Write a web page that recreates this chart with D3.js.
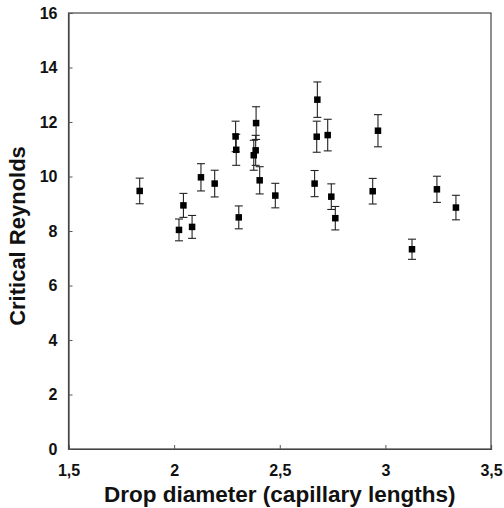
<!DOCTYPE html>
<html>
<head>
<meta charset="utf-8">
<script src="https://cdn.jsdelivr.net/npm/d3@7/dist/d3.min.js"></script>
<style>
  html, body { margin: 0; padding: 0; background: #fff; }
  svg { display: block; font-family: "Liberation Sans", Arial, sans-serif; }
</style>
</head>
<body>
<svg id="chart" width="504" height="508"></svg>
<script>
// Data
const diameter = [1.837, 2.023, 2.044, 2.085, 2.127, 2.192, 2.291, 2.294, 2.306, 2.377, 2.386, 2.388, 2.405, 2.479, 2.665, 2.675, 2.678, 2.727, 2.744, 2.763, 2.940, 2.965, 3.126, 3.244, 3.334];
const reynolds = [9.47, 8.04, 8.94, 8.15, 9.97, 9.74, 11.47, 10.98, 8.50, 10.78, 10.96, 11.96, 9.86, 9.30, 9.74, 11.46, 12.82, 11.52, 9.26, 8.47, 9.46, 11.68, 7.33, 9.53, 8.86];
const errors   = [0.47, 0.40, 0.44, 0.42, 0.50, 0.49, 0.56, 0.57, 0.42, 0.55, 0.55, 0.60, 0.50, 0.45, 0.48, 0.57, 0.65, 0.58, 0.47, 0.43, 0.47, 0.59, 0.37, 0.48, 0.45];
const xTicks = [1.5, 2, 2.5, 3, 3.5];
const xTickLabels = ["1,5", "2", "2,5", "3", "3,5"];
const yTicks = [0, 2, 4, 6, 8, 10, 12, 14, 16];
const xTitle = "Drop diameter (capillary lengths)";
const yTitle = "Critical Reynolds";

const svg = d3.select("#chart");
const mLeft = 68.5, mRight = 491, mTop = 13, mBottom = 449;

const x = d3.scaleLinear().domain([1.5, 3.5]).range([mLeft, mRight]);
const y = d3.scaleLinear().domain([0, 16]).range([mBottom, mTop]);

// frame
svg.append("rect")
  .attr("x", mLeft).attr("y", mTop)
  .attr("width", mRight - mLeft).attr("height", mBottom - mTop)
  .attr("fill", "none").attr("stroke", "#444").attr("stroke-width", 1.2);

const xAxis = svg.append("g")
  .attr("transform", `translate(0,${mBottom})`)
  .call(d3.axisBottom(x).tickValues(xTicks).tickFormat((d, i) => xTickLabels[i]).tickSize(-4).tickPadding(16));
const yAxis = svg.append("g")
  .attr("transform", `translate(${mLeft},0)`)
  .call(d3.axisLeft(y).tickValues(yTicks).tickSize(-4).tickPadding(11));

[xAxis, yAxis].forEach(g => {
  g.select(".domain").attr("stroke", "#444").attr("stroke-width", 1.2);
  g.selectAll(".tick line").attr("stroke", "#555");
  g.selectAll(".tick text")
    .attr("font-family", "'Liberation Sans', Arial, sans-serif")
    .attr("font-size", 16).attr("font-weight", "bold").attr("fill", "#111");
});

// error bars
const pts = diameter.map((d, i) => ({ x: d, y: reynolds[i], e: errors[i] }));
const eb = svg.append("g").attr("stroke", "#222").attr("stroke-width", 1.1);
pts.forEach(p => {
  const cx = x(p.x), y1 = y(p.y + p.e), y2 = y(p.y - p.e);
  eb.append("line").attr("x1", cx).attr("x2", cx).attr("y1", y1).attr("y2", y2);
  eb.append("line").attr("x1", cx - 4).attr("x2", cx + 4).attr("y1", y1).attr("y2", y1);
  eb.append("line").attr("x1", cx - 4).attr("x2", cx + 4).attr("y1", y2).attr("y2", y2);
});

// markers
const s = 6.5;
svg.append("g").selectAll("rect").data(pts).join("rect")
  .attr("x", d => x(d.x) - s / 2).attr("y", d => y(d.y) - s / 2)
  .attr("width", s).attr("height", s).attr("fill", "#000");

// titles
svg.append("text")
  .attr("x", (mLeft + mRight) / 2).attr("y", 502)
  .attr("text-anchor", "middle")
  .attr("font-size", 22.5).attr("font-weight", "bold").attr("fill", "#111")
  .text(xTitle);
svg.append("text")
  .attr("transform", `translate(25,${(mTop + mBottom) / 2 + 5}) rotate(-90)`)
  .attr("text-anchor", "middle")
  .attr("font-size", 22).attr("font-weight", "bold").attr("fill", "#111")
  .text(yTitle);
</script>
</body>
</html>
